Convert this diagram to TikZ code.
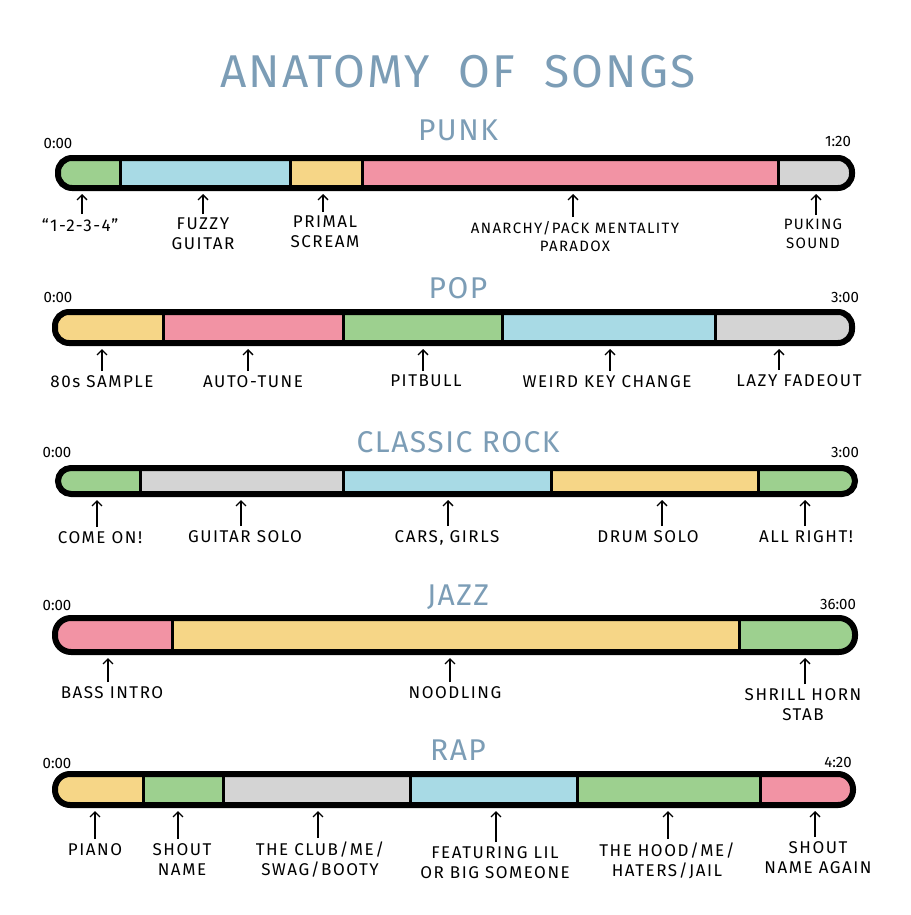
\documentclass[tikz,border=0pt]{standalone}
\usepackage{fontspec}
\setmainfont{Fira Sans}
\newfontfamily\handfont[LetterSpace=9]{Fira Sans}
\newfontfamily\titlefont[LetterSpace=5]{Fira Sans}
\usepackage{tikz}
\usetikzlibrary{arrows.meta}
\definecolor{segGreen}{HTML}{9DD08F}
\definecolor{segBlue}{HTML}{A8DAE5}
\definecolor{segYellow}{HTML}{F6D687}
\definecolor{segPink}{HTML}{F293A4}
\definecolor{segGray}{HTML}{D4D4D4}
\definecolor{titleBlue}{HTML}{7C9DB6}

\begin{document}
\begin{tikzpicture}[x=1pt, y=-1pt, >={Straight Barb[length=5pt, width=10pt]},
    bar/.style={line width=6pt, rounded corners=14pt},
    sep/.style={line width=3pt},
    lbl/.style={anchor=north, align=center, inner sep=0pt, font=\handfont\fontsize{17}{20}\selectfont},
    genre/.style={text=titleBlue, font=\titlefont\fontsize{30}{30}\selectfont},
    stamp/.style={font=\fontsize{15}{15}\selectfont},
    arr/.style={->, line width=1.3pt, shorten <=4pt}]
    \useasboundingbox (0,0) rectangle (910,915);

    % Title
    \node[text=titleBlue, font=\titlefont\fontsize{46}{46}\selectfont] (title) at (458,72) {ANATOMY\ \ OF\ \ SONGS};

    % Punk
    \node[genre] (punk) at (458,130) {PUNK};
    \node[stamp] (punkStart) at (58,143) {0:00};
    \node[stamp] (punkEnd) at (838,141) {1:20};
    \begin{scope}
        \clip[rounded corners=14pt] (58,158) rectangle (852,188);
        \fill[segGreen] (58,158) rectangle (120,188);
        \fill[segBlue] (120,158) rectangle (290,188);
        \fill[segYellow] (290,158) rectangle (362,188);
        \fill[segPink] (362,158) rectangle (778,188);
        \fill[segGray] (778,158) rectangle (852,188);
        \draw[sep] (120,158) -- (120,188) (290,158) -- (290,188) (362,158) -- (362,188) (778,158) -- (778,188);
    \end{scope}
    \draw[bar] (58,158) rectangle (852,188);
    \node[lbl] (punk1) at (80,218) {“1-2-3-4”};
    \node[lbl] (punk2) at (203,218) {FUZZY\\GUITAR};
    \node[lbl] (punk3) at (325,216) {PRIMAL\\SCREAM};
    \node[lbl, font=\handfont\fontsize{15}{18}\selectfont] (punk4) at (575,221) {ANARCHY/PACK MENTALITY\\PARADOX};
    \node[lbl, font=\handfont\fontsize{15}{19}\selectfont] (punk5) at (813,219) {PUKING\\SOUND};
    \coordinate (punk1tip) at (82,194);
    \coordinate (punk2tip) at (203,194);
    \coordinate (punk3tip) at (323,194);
    \coordinate (punk4tip) at (573,194);
    \coordinate (punk5tip) at (816,194);
    \draw[arr] (punk1tip |- punk1.north) -- (punk1tip);
    \draw[arr] (punk2tip |- punk2.north) -- (punk2tip);
    \draw[arr] (punk3tip |- punk3.north) -- (punk3tip);
    \draw[arr] (punk4tip |- punk4.north) -- (punk4tip);
    \draw[arr] (punk5tip |- punk5.north) -- (punk5tip);

    % Pop
    \node[genre] (pop) at (458,288) {POP};
    \node[stamp] (popStart) at (58,297) {0:00};
    \node[stamp] (popEnd) at (845,297) {3:00};
    \begin{scope}
        \clip[rounded corners=14pt] (55,312) rectangle (852,343);
        \fill[segYellow] (55,312) rectangle (163,343);
        \fill[segPink] (163,312) rectangle (343,343);
        \fill[segGreen] (343,312) rectangle (502,343);
        \fill[segBlue] (502,312) rectangle (715,343);
        \fill[segGray] (715,312) rectangle (852,343);
        \draw[sep] (163,312) -- (163,343) (343,312) -- (343,343) (502,312) -- (502,343) (715,312) -- (715,343);
    \end{scope}
    \draw[bar] (55,312) rectangle (852,343);
    \node[lbl] (pop1) at (102,375) {80s SAMPLE};
    \node[lbl] (pop2) at (253,375) {AUTO-TUNE};
    \node[lbl] (pop3) at (426,375) {PITBULL};
    \node[lbl] (pop4) at (607,375) {WEIRD KEY CHANGE};
    \node[lbl] (pop5) at (799,374) {LAZY FADEOUT};
    \coordinate (pop1tip) at (102,349);
    \coordinate (pop2tip) at (248,349);
    \coordinate (pop3tip) at (423,349);
    \coordinate (pop4tip) at (610,349);
    \coordinate (pop5tip) at (779,349);
    \draw[arr] (pop1tip |- pop1.north) -- (pop1tip);
    \draw[arr] (pop2tip |- pop2.north) -- (pop2tip);
    \draw[arr] (pop3tip |- pop3.north) -- (pop3tip);
    \draw[arr] (pop4tip |- pop4.north) -- (pop4tip);
    \draw[arr] (pop5tip |- pop5.north) -- (pop5tip);

    % Classic rock
    \node[genre] (rock) at (458,442) {CLASSIC ROCK};
    \node[stamp] (rockStart) at (57,452) {0:00};
    \node[stamp] (rockEnd) at (845,452) {3:00};
    \begin{scope}
        \clip[rounded corners=13pt] (58,468) rectangle (855,494);
        \fill[segGreen] (58,468) rectangle (140,494);
        \fill[segGray] (140,468) rectangle (343,494);
        \fill[segBlue] (343,468) rectangle (551,494);
        \fill[segYellow] (551,468) rectangle (758,494);
        \fill[segGreen] (758,468) rectangle (855,494);
        \draw[sep] (140,468) -- (140,494) (343,468) -- (343,494) (551,468) -- (551,494) (758,468) -- (758,494);
    \end{scope}
    \draw[bar, rounded corners=13pt] (58,468) rectangle (855,494);
    \node[lbl] (rock1) at (100,531) {COME ON!};
    \node[lbl] (rock2) at (245,530) {GUITAR SOLO};
    \node[lbl] (rock3) at (447,530) {CARS, GIRLS};
    \node[lbl] (rock4) at (648,530) {DRUM SOLO};
    \node[lbl] (rock5) at (806,530) {ALL RIGHT!};
    \coordinate (rock1tip) at (97,500);
    \coordinate (rock2tip) at (241,500);
    \coordinate (rock3tip) at (448,500);
    \coordinate (rock4tip) at (662,500);
    \coordinate (rock5tip) at (805,500);
    \draw[arr] (rock1tip |- rock1.north) -- (rock1tip);
    \draw[arr] (rock2tip |- rock2.north) -- (rock2tip);
    \draw[arr] (rock3tip |- rock3.north) -- (rock3tip);
    \draw[arr] (rock4tip |- rock4.north) -- (rock4tip);
    \draw[arr] (rock5tip |- rock5.north) -- (rock5tip);

    % Jazz
    \node[genre] (jazz) at (458,597) {JAZZ};
    \node[stamp] (jazzStart) at (57,605) {0:00};
    \node[stamp] (jazzEnd) at (838,604) {36:00};
    \begin{scope}
        \clip[rounded corners=16pt] (55,618) rectangle (855,652);
        \fill[segPink] (55,618) rectangle (172,652);
        \fill[segYellow] (172,618) rectangle (739,652);
        \fill[segGreen] (739,618) rectangle (855,652);
        \draw[sep] (172,618) -- (172,652) (739,618) -- (739,652);
    \end{scope}
    \draw[bar, rounded corners=16pt] (55,618) rectangle (855,652);
    \node[lbl] (jazz1) at (112,686) {BASS INTRO};
    \node[lbl] (jazz2) at (455,686) {NOODLING};
    \node[lbl] (jazz3) at (803,688) {SHRILL HORN\\STAB};
    \coordinate (jazz1tip) at (108,658);
    \coordinate (jazz2tip) at (450,658);
    \coordinate (jazz3tip) at (805,658);
    \draw[arr] (jazz1tip |- jazz1.north) -- (jazz1tip);
    \draw[arr] (jazz2tip |- jazz2.north) -- (jazz2tip);
    \draw[arr] (jazz3tip |- jazz3.north) -- (jazz3tip);

    % Rap
    \node[genre] (rap) at (458,750) {RAP};
    \node[stamp] (rapStart) at (57,763) {0:00};
    \node[stamp] (rapEnd) at (838,762) {4:20};
    \begin{scope}
        \clip[rounded corners=15pt] (55,774) rectangle (853,805);
        \fill[segYellow] (55,774) rectangle (143,805);
        \fill[segGreen] (143,774) rectangle (223,805);
        \fill[segGray] (223,774) rectangle (410,805);
        \fill[segBlue] (410,774) rectangle (577,805);
        \fill[segGreen] (577,774) rectangle (760,805);
        \fill[segPink] (760,774) rectangle (853,805);
        \draw[sep] (143,774) -- (143,805) (223,774) -- (223,805) (410,774) -- (410,805) (577,774) -- (577,805) (760,774) -- (760,805);
    \end{scope}
    \draw[bar, rounded corners=15pt] (55,774) rectangle (853,805);
    \node[lbl] (rap1) at (95,843) {PIANO};
    \node[lbl] (rap2) at (182,843) {SHOUT\\NAME};
    \node[lbl] (rap3) at (320,842) {THE CLUB/ME/\\SWAG/BOOTY};
    \node[lbl] (rap4) at (495,846) {FEATURING LIL\\OR BIG SOMEONE};
    \node[lbl] (rap5) at (667,843) {THE HOOD/ME/\\HATERS/JAIL};
    \node[lbl] (rap6) at (818,841) {SHOUT\\NAME AGAIN};
    \coordinate (rap1tip) at (95,811);
    \coordinate (rap2tip) at (178,811);
    \coordinate (rap3tip) at (318,811);
    \coordinate (rap4tip) at (496,811);
    \coordinate (rap5tip) at (668,811);
    \coordinate (rap6tip) at (815,811);
    \draw[arr] (rap1tip |- rap1.north) -- (rap1tip);
    \draw[arr] (rap2tip |- rap2.north) -- (rap2tip);
    \draw[arr] (rap3tip |- rap3.north) -- (rap3tip);
    \draw[arr] (rap4tip |- rap4.north) -- (rap4tip);
    \draw[arr] (rap5tip |- rap5.north) -- (rap5tip);
    \draw[arr] (rap6tip |- rap6.north) -- (rap6tip);
\end{tikzpicture}
\end{document}
